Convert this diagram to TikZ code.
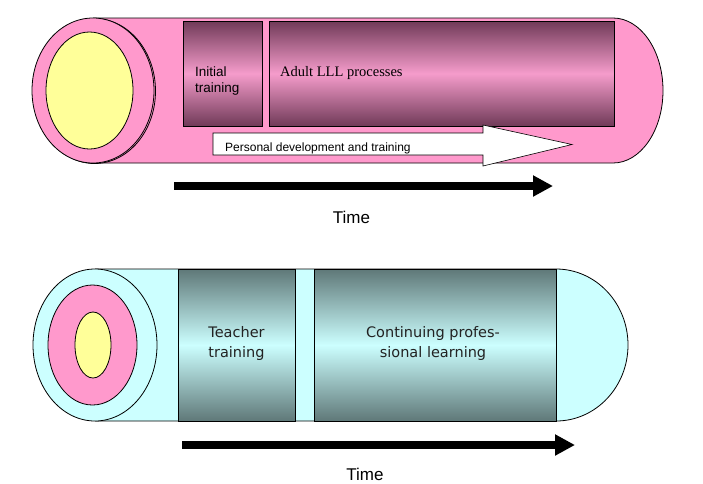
\documentclass[tikz,border=0pt]{standalone}
\usepackage{fontspec}
\setmainfont{Liberation Sans}
\newfontfamily\serifLL{Liberation Serif}
\newfontfamily\verdLL{DejaVu Sans}
\usetikzlibrary{shapes.geometric,arrows.meta}
\definecolor{pinkc}{HTML}{FF99CC}
\definecolor{mauvedark}{HTML}{703A58}
\definecolor{mauvelight}{HTML}{F59CCB}
\definecolor{cyanc}{HTML}{CCFFFF}
\definecolor{tealdark}{HTML}{5F7878}
\definecolor{yellowc}{HTML}{FFFF99}
\definecolor{textgray}{HTML}{222222}
\begin{document}
\begin{tikzpicture}[x=1pt,y=-1pt,
  thinline/.style={draw=black,line width=0.8pt},
  endell/.style={ellipse,thinline,inner sep=0pt},
  mauvebox/.style={rectangle,thinline,inner sep=0pt,top color=mauvedark,bottom color=mauvedark,middle color=mauvelight},
  tealbox/.style={rectangle,thinline,inner sep=0pt,top color=tealdark,bottom color=tealdark,middle color=cyanc},
  timearrow/.style={line width=7.5pt,-{Triangle[length=20pt,width=20pt]}},
  timelabel/.style={font=\fontsize{17}{20}\selectfont,anchor=base,inner sep=0pt,text depth=0pt},
  vlabel/.style={font=\verdLL\fontsize{14.5}{20}\selectfont,text=textgray,align=center,anchor=north,inner sep=0pt}
]
\useasboundingbox (0,0) rectangle (703,483);

% ---------- top cylinder ----------
\fill[pinkc] (93,18) -- (613,18) arc(90:-90:50pt and 72.5pt) -- (93,163) -- cycle;
\draw[thinline] (93,18) -- (613,18) arc(90:-90:50pt and 72.5pt) -- (93,163);
\node[mauvebox,minimum width=79pt,minimum height=105pt] (initbox) at (222.5,73.5) {};
\node[mauvebox,minimum width=345pt,minimum height=105pt] (adultbox) at (441.5,73.5) {};
\node[font=\fontsize{13.5}{16}\selectfont,align=left,anchor=north west,inner sep=0pt] (inittext) at (195,67) {Initial\\training};
\node[font=\serifLL\fontsize{14.5}{17}\selectfont,anchor=base west,inner sep=0pt] (adulttext) at (280,76) {Adult LLL processes};
% white arrow
\filldraw[fill=white,draw=black,line width=0.6pt] (213,133) -- (483,133) -- (483,125) -- (572,144.5) -- (483,166) -- (483,155) -- (213,155) -- cycle;
\node[font=\fontsize{12}{14}\selectfont,anchor=base west,inner sep=0pt] (pdtext) at (225,151) {Personal development and training};
% left end
\node[endell,fill=pinkc,minimum width=122pt,minimum height=145pt] (tend2) at (94.5,91) {};
\node[endell,fill=pinkc,minimum width=122pt,minimum height=145pt] (tend) at (93,90.5) {};
\node[endell,fill=yellowc,minimum width=87pt,minimum height=117pt] (tcore) at (89.5,90.5) {};
% time arrow
\coordinate (t1a) at (174,186);
\coordinate (t1b) at (553,186);
\draw[timearrow] (t1a) -- (t1b);
\node[timelabel] (time1) at (351.5,223) {Time};

% ---------- bottom cylinder ----------
\fill[cyanc] (95,269) -- (556,269) arc(90:-90:72pt and 76pt) -- (95,421) -- cycle;
\draw[thinline] (95,269) -- (556,269) arc(90:-90:72pt and 76pt) -- (95,421);
\node[tealbox,minimum width=117pt,minimum height=152pt] (teachbox) at (236.5,345) {};
\node[tealbox,minimum width=242pt,minimum height=152pt] (contbox) at (435,345) {};
\node[vlabel] (teachtext) at (236.5,326) {Teacher\\training};
\node[vlabel] (conttext) at (433,326) {Continuing profes-\\sional learning};
% left end
\node[endell,fill=cyanc,minimum width=124pt,minimum height=152pt] (bend) at (95,345) {};
\node[endell,fill=pinkc,minimum width=89pt,minimum height=120pt] (bmid) at (92.5,345) {};
\node[endell,fill=yellowc,minimum width=36pt,minimum height=66pt] (bcore) at (93,345) {};
% time arrow
\coordinate (t2a) at (182,445);
\coordinate (t2b) at (575,445);
\draw[timearrow] (t2a) -- (t2b);
\node[timelabel] (time2) at (365,480) {Time};
\end{tikzpicture}
\end{document}
